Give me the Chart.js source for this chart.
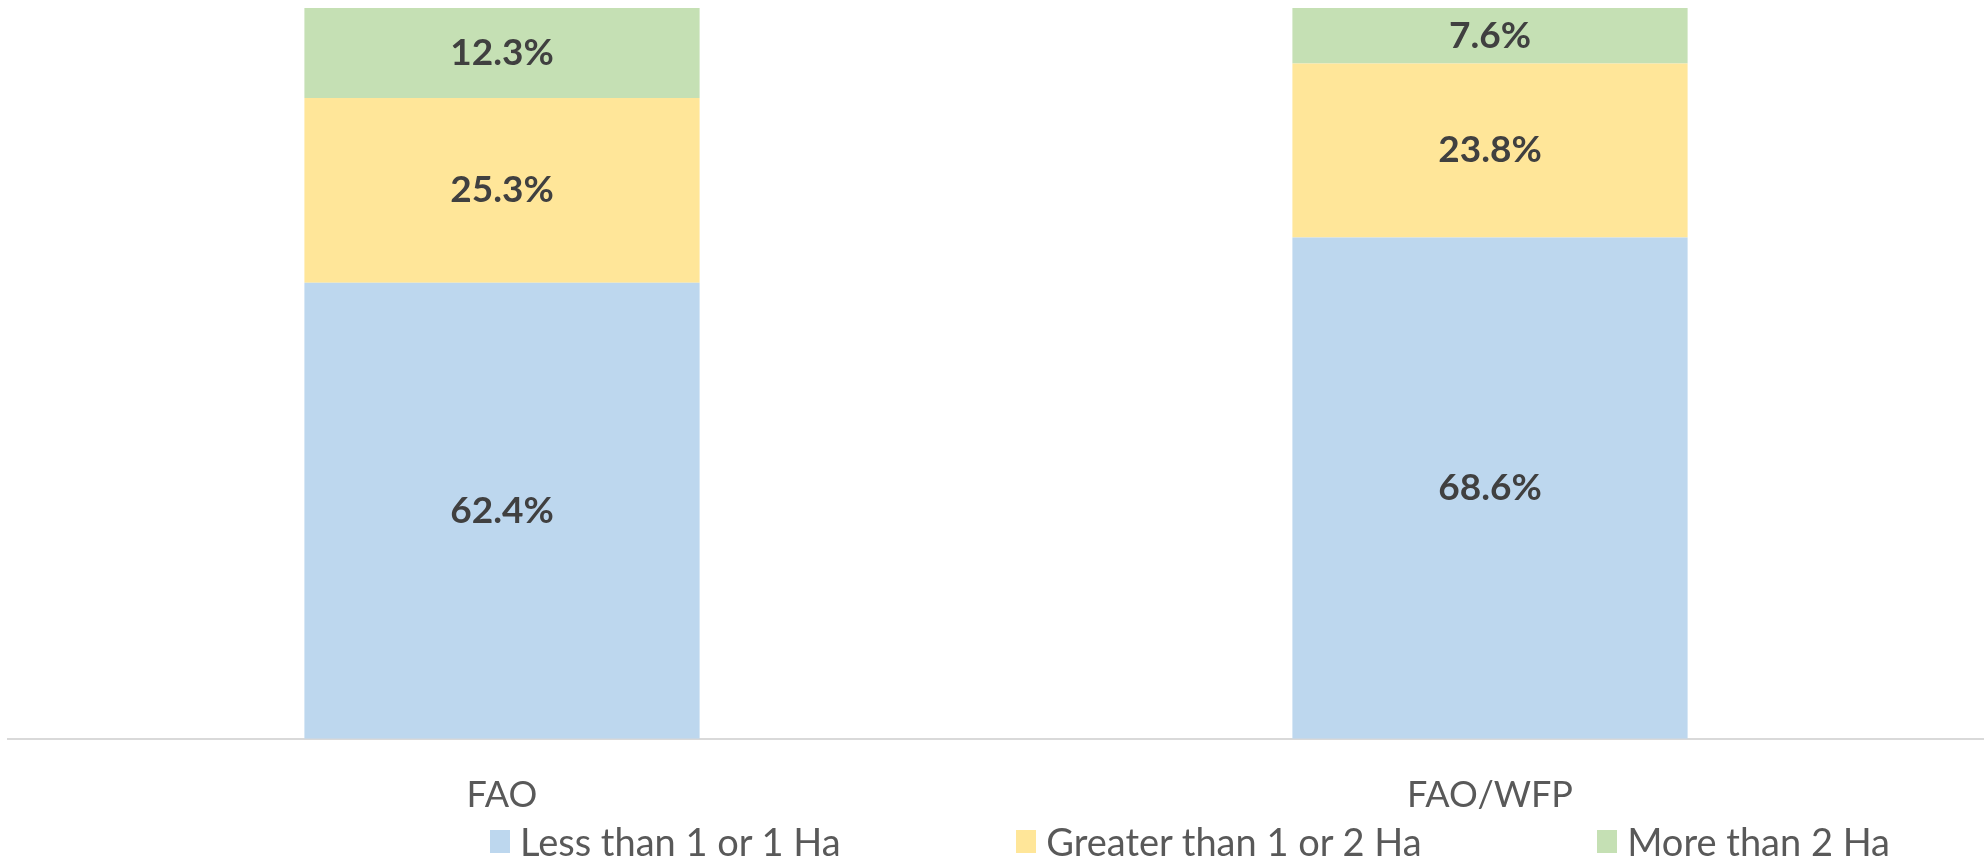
<!DOCTYPE html>
<html>
<head>
<meta charset="utf-8">
<script src="https://cdn.jsdelivr.net/npm/chart.js@4.4.1/dist/chart.umd.min.js"></script>
<style>
  html, body { margin: 0; padding: 0; background: #ffffff; }
  #wrap { position: relative; width: 1984px; height: 858px; }
  #legend {
    position: absolute; left: 490px; width: 1400px; top: 821px; height: 40px;
    display: flex; justify-content: space-between; align-items: center;
    font-family: Lato, sans-serif; font-size: 38px; color: #595959;
  }
  #legend .item { display: flex; align-items: center; white-space: nowrap; }
  #legend .box { width: 20px; height: 23px; margin-right: 10px; }
</style>
</head>
<body>
<div id="wrap">
  <canvas id="landChart"></canvas>
  <div id="legend"></div>
</div>
<script>
const categories = ['FAO', 'FAO/WFP'];
const seriesNames = ['Less than 1 or 1 Ha', 'Greater than 1 or 2 Ha', 'More than 2 Ha'];
const lessThan1 = [62.4, 68.6];
const between1and2 = [25.3, 23.8];
const moreThan2 = [12.3, 7.6];
const colors = ['#BDD7EE', '#FFE699', '#C5E0B4'];

// value labels in the middle of each bar segment
const segmentLabels = {
    id: 'segmentLabels',
    afterDatasetsDraw(chart) {
        const ctx = chart.ctx;
        ctx.save();
        ctx.font = 'bold 37px Lato';
        ctx.fillStyle = '#404040';
        ctx.textAlign = 'center';
        ctx.textBaseline = 'middle';
        chart.data.datasets.forEach((ds, i) => {
            chart.getDatasetMeta(i).data.forEach((bar, j) => {
                const p = bar.getProps(['x', 'y', 'base'], true);
                ctx.fillText(ds.data[j].toFixed(1) + '%', p.x, (p.y + p.base) / 2);
            });
        });
        ctx.restore();
    }
};

const seriesData = [lessThan1, between1and2, moreThan2];

const ctxLand = document.getElementById('landChart').getContext('2d');
const landChart = new Chart(ctxLand, {
    type: 'bar',
    data: {
        labels: categories,
        datasets: seriesNames.map((name, i) => ({
            label: name,
            data: seriesData[i],
            backgroundColor: colors[i],
            borderWidth: 0,
            barPercentage: 0.4,
            categoryPercentage: 1
        }))
    },
    options: {
        responsive: true,
        maintainAspectRatio: false,
        animation: false,
        layout: {
            padding: { top: 8, left: 8, right: 0, bottom: 14 }
        },
        plugins: {
            legend: { display: false },
            tooltip: { enabled: false }
        },
        scales: {
            x: {
                stacked: true,
                grid: { display: false },
                border: { display: true, color: '#D9D9D9', width: 2 },
                ticks: {
                    padding: 27,
                    color: '#595959',
                    font: { family: 'Lato', size: 36 }
                }
            },
            y: {
                stacked: true,
                display: false,
                min: 0,
                max: 100
            }
        }
    },
    plugins: [segmentLabels]
});

// legend built from the same series
const legendEl = document.getElementById('legend');
seriesNames.forEach((name, i) => {
    const item = document.createElement('div');
    item.className = 'item';
    const box = document.createElement('span');
    box.className = 'box';
    box.style.background = colors[i];
    const txt = document.createElement('span');
    txt.textContent = name;
    item.appendChild(box);
    item.appendChild(txt);
    legendEl.appendChild(item);
});
</script>
</body>
</html>
